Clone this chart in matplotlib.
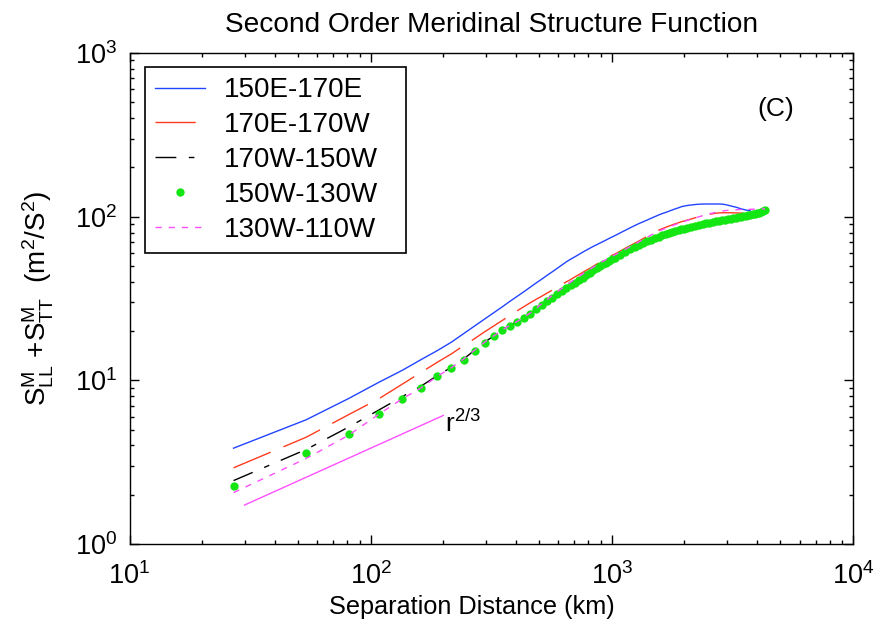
import numpy as np
import matplotlib
matplotlib.use('Agg')
import matplotlib.pyplot as plt

plt.rcParams['font.family'] = ['Liberation Sans', 'DejaVu Sans']
plt.rcParams['mathtext.fontset'] = 'custom'
plt.rcParams['mathtext.rm'] = 'Liberation Sans'
plt.rcParams['mathtext.it'] = 'Liberation Sans:italic'

# separation grid (km): 27 km steps, then thinned further out
dist_km = np.concatenate([np.arange(27, 1027, 27),
                          np.arange(1080, 2100, 54),
                          np.arange(2133, 4500, 81)])

nan = np.nan
s_150e_170e = [3.85, 5.74, 7.74, 9.72, 11.5, 13.4, 15.2, 17.1, 19.3, 21.5, 23.7, 25.9, 28.1, 30.4, 32.6, 34.8, 37.1, 39.4, 41.6, 43.9,
               46.1, 48.4, 50.7, 53.0, 55.0, 56.8, 58.7, 60.6, 62.4, 64.1, 65.8, 67.3, 68.9, 70.4, 71.9, 73.5, 75.0, 76.4,
               79.4, 82.4, 85.3, 88.1, 90.8, 93.1, 95.5, 97.9, 100.2, 102.5, 104.5, 106.2, 108.1, 109.9, 111.7, 113.3, 115.1, 116.1, 117.0,
               117.8, 118.6, 119.1, 119.4, 119.5, 119.5, 119.5, 119.5, 119.5, 119.3, 118.6, 117.5, 116.4, 115.3, 114.3, 113.0, 111.7,
               110.7, 109.9, 109.1, 108.6, nan, nan, nan, nan, nan, nan, nan, nan, nan]
s_170e_170w = [2.92, 4.49, 6.17, 7.71, 9.46, 11.2, 12.9, 14.5, 16.3, 18.0, 19.8, 21.5, 23.2, 24.9, 26.6, 28.2, 29.8, 31.3, 32.7, 34.2,
               35.6, 37.2, 38.5, 40.0, 41.3, 42.8, 44.2, 45.6, 47.0, 48.3, 49.8, 51.2, 52.5, 53.8, 55.1, 56.5, 57.9, 59.0,
               61.4, 64.0, 66.4, 68.7, 71.1, 73.5, 75.9, 78.2, 80.5, 82.8, 84.5, 86.1, 87.7, 89.1, 90.6, 91.8, 93.1, 94.2, 95.3,
               96.8, 98.4, 99.8, 101.2, 102.3, 103.3, 104.2, 105.0, 105.4, 105.6, 105.7, 105.7, 105.6, 105.5, 105.4, 105.3, 105.2,
               105.1, nan, nan, nan, nan, nan, nan, nan, nan, nan, nan, nan, nan]
s_170w_150w = [2.44, 3.78, 5.18, 6.58, 7.94, 9.23, 10.7, 12.0, 13.5, 15.3, 17.1, 18.7, 20.3, 21.7, 22.9, 24.3, 25.7, 27.3, 29.0, 30.6,
               32.1, 33.6, 35.1, 36.6, 38.1, 39.6, 41.1, 42.4, 43.9, 45.6, 47.1, 48.5, 49.9, 51.2, 52.5, 53.8, 55.1, 56.3,
               58.6, 60.9, 63.1, 65.2, 67.2, 69.1, 70.9, 72.6, 74.2, 75.7, 77.1, 78.4, 79.6, 80.7, 81.8, 82.8, 83.8, 84.7, 85.6,
               86.9, 88.1, 89.2, 90.2, 91.1, 92.0, 92.8, 93.6, 94.3, 95.0, 95.7, 96.4, 97.1, 97.8, 98.5, 99.2, 99.9,
               100.6, 101.3, 102.0, 102.7, 103.4, 104.2, 105.1, 106.1, 107.3, 108.7, 110.5, nan, nan]
s_150w_130w = [2.27, 3.6, 4.7, 6.2, 7.65, 8.95, 10.6, 11.9, 13.4, 15.2, 17.0, 18.6, 20.2, 21.6, 22.8, 24.2, 25.6, 27.2, 28.9, 30.5,
               32.0, 33.5, 35.0, 36.5, 38.0, 39.5, 41.0, 42.3, 43.8, 45.5, 47.0, 48.4, 49.8, 51.1, 52.4, 53.7, 55.0, 56.2,
               58.5, 60.8, 63.0, 65.1, 67.1, 69.0, 70.8, 72.5, 74.1, 75.6, 77.0, 78.3, 79.5, 80.6, 81.7, 82.7, 83.7, 84.6, 85.5,
               86.8, 88.0, 89.1, 90.1, 91.0, 91.9, 92.7, 93.5, 94.2, 94.9, 95.6, 96.3, 97.0, 97.7, 98.4, 99.1, 99.8,
               100.5, 101.2, 101.9, 102.6, 103.3, 104.1, 105.0, 106.0, 107.2, 108.6, 110.5, nan, nan]
s_130w_110w = [2.06, 3.33, 4.62, 6.2, 7.7, 9.0, 10.6, 11.95, 13.5, 15.3, 17.1, 18.7, 20.3, 21.7, 22.9, 24.3, 25.8, 27.5, 29.5, 31.3,
               33.0, 34.8, 36.5, 38.2, 39.8, 41.4, 43.0, 44.6, 46.2, 47.6, 49.2, 50.6, 52.0, 53.3, 54.6, 55.9, 57.2, 58.3,
               60.6, 63.1, 65.5, 67.8, 70.2, 72.6, 75.0, 77.3, 79.6, 81.6, 83.4, 85.0, 86.6, 88.1, 89.6, 91.0, 92.3, 93.6, 94.8,
               96.5, 98.2, 99.8, 101.3, 102.7, 104.0, 105.2, 106.3, 107.3, 108.1, 108.8, 109.3, 109.7, 110.0, 110.2, 110.4, 110.5,
               110.6, 110.7, 110.8, 110.9, 111.0, 111.1, 111.2, 111.3, 111.4, 111.5, 111.6, nan, nan]

# r^(2/3) reference segment
ref_r = [30, 200]
ref_v = [1.73, 6.1]

labels = ['150E-170E', '170E-170W', '170W-150W', '150W-130W', '130W-110W']

fig = plt.figure(figsize=(8.75, 6.33), dpi=100)
ax = fig.add_axes([0.148, 0.1406, 0.8269, 0.7757])

ax.plot(dist_km, s_150e_170e, color='#2244ff', lw=1.0, label=labels[0])
ax.plot(dist_km, s_170e_170w, color='#ff3b1f', lw=1.0, dashes=(29, 10), label=labels[1])
ax.plot(dist_km, s_170w_150w, color='black', lw=1.0, dashes=(15, 9, 4, 9), label=labels[2])
ax.plot(dist_km, s_150w_130w, color='#14e614', ls='none', marker='o', ms=6, mew=0, label=labels[3])
ax.plot(dist_km, s_130w_110w, color='#ff50ff', lw=1.0, dashes=(4.5, 5), label=labels[4])
ax.plot(ref_r, ref_v, color='#ff50ff', lw=1.0)

ax.text(204, 4.82, r'r$^{2/3}$', fontsize=19, ha='left', va='baseline')
ax.text(4770, 456, '(C)', fontsize=19, ha='center', va='center')

ax.set_xscale('log')
ax.set_yscale('log')
ax.set_xlim(10, 1e4)
ax.set_ylim(1, 1e3)

ax.tick_params(which='both', direction='in', top=True, right=True, labelsize=19.5, width=1.0)
ax.tick_params(which='major', length=6.5)
ax.tick_params(which='minor', length=3)
ax.tick_params(axis='x', pad=13)
ax.tick_params(axis='y', pad=9)
for sp in ax.spines.values():
    sp.set_linewidth(1.0)

ax.set_title('Second Order Meridinal Structure Function', fontsize=20.2, pad=15)
ax.set_xlabel('Separation Distance (km)', fontsize=18.2)
ax.xaxis.set_label_coords(0.473, -0.103)
ax.set_ylabel(r'$\mathregular{S^{M}_{LL}}$ +$\mathregular{S^{M}_{TT}}$  (m$^2$/S$^2$)', fontsize=20)
ax.yaxis.set_label_coords(-0.102, 0.5)

leg = ax.legend(loc='upper left', bbox_to_anchor=(0.021, 0.5, 0.3607, 0.472), mode='expand', borderaxespad=0,
                fancybox=False, edgecolor='black', framealpha=1, fontsize=20,
                handlelength=1.8, handletextpad=0.68, labelspacing=0.32, borderpad=0.38)
leg.get_frame().set_linewidth(1.2)

fig.savefig('out.png', dpi=100)
